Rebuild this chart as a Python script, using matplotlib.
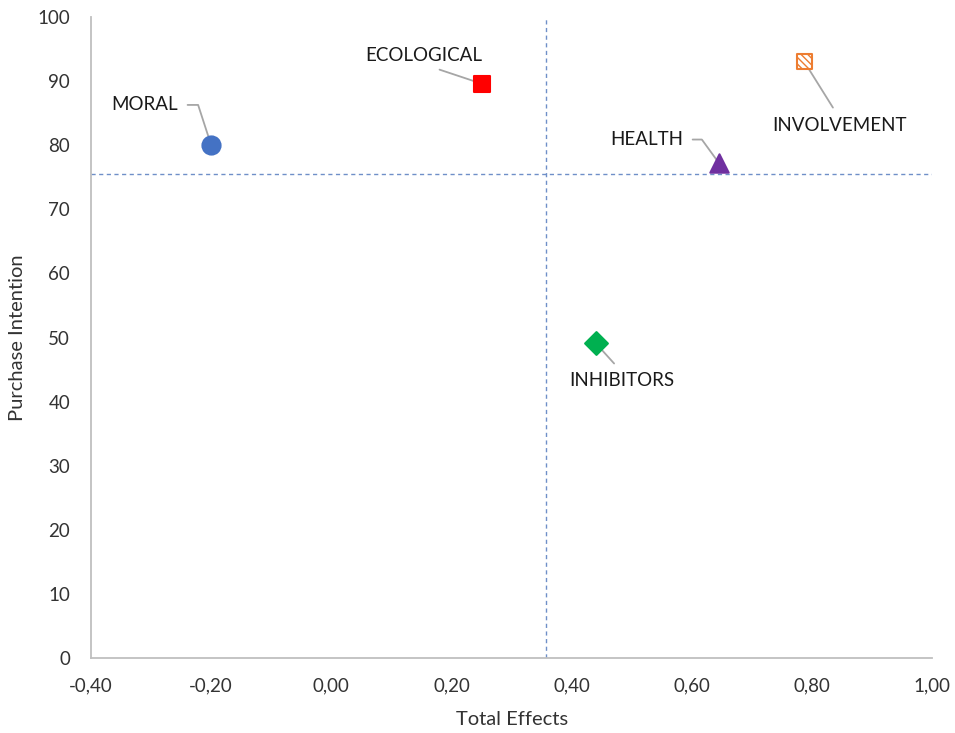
import matplotlib.pyplot as plt
from matplotlib.ticker import FuncFormatter, MultipleLocator

plt.rcParams['font.family'] = ['Lato', 'DejaVu Sans']

# Factor positions: total effect vs purchase intention
labels = ["MORAL", "ECOLOGICAL", "INVOLVEMENT", "HEALTH", "INHIBITORS"]
total_effects = [-0.20, 0.25, 0.787, 0.645, 0.44]
purchase_intention = [80.0, 89.6, 93.0, 77.2, 49.1]

# Quadrant reference lines
x_split = 0.357
y_split = 75.5

# Marker styles and label placement (offset points) for each factor
styles = [
    dict(marker='o', s=170, facecolor='#4472c4', edgecolor='#4472c4'),
    dict(marker='s', s=125, facecolor='#ff0000', edgecolor='#ff0000'),
    dict(marker='s', s=120, facecolor='white', edgecolor='#ed7d31', hatch='\\\\\\\\\\'),
    dict(marker='^', s=175, facecolor='#7030a0', edgecolor='#7030a0'),
    dict(marker='D', s=135, facecolor='#00b050', edgecolor='#00b050'),
]
offsets = [(-24, 29), (-42, 14), (25, -40), (-26, 17), (19, -21)]
connections = [
    'angle,angleA=0,angleB=108,rad=0',
    'arc3,rad=0',
    'arc3,rad=0',
    'angle,angleA=0,angleB=126,rad=0',
    'arc3,rad=0',
]
relpos = [(1, 0.5), (0.5, 0), (0.5, 1), (1, 0.5), (0.5, 1)]
shrink = [5, 6, 6, 5, 6]
text_anchor = [('right', 'center'), ('center', 'bottom'), ('center', 'top'),
               ('right', 'center'), ('center', 'top')]

fig = plt.figure(figsize=(9.55, 7.33), dpi=100)
ax = fig.add_axes([0.0953, 0.1023, 0.881, 0.8745])

ax.axvline(x_split, color='#6f8fc8', linestyle=(0, (3, 2.5)), linewidth=1.0, zorder=1)
ax.axhline(y_split, color='#6f8fc8', linestyle=(0, (3, 2.5)), linewidth=1.0, zorder=1)

for i, name in enumerate(labels):
    x, y = total_effects[i], purchase_intention[i]
    ha, va = text_anchor[i]
    ax.scatter([x], [y], zorder=3, linewidths=1.5, **styles[i])
    ax.annotate(name, xy=(x, y), xytext=offsets[i], textcoords='offset points',
                ha=ha, va=va, fontsize=13.5, color='#1a1a1a',
                arrowprops=dict(arrowstyle='-', color='#a6a6a6', linewidth=1.3,
                                connectionstyle=connections[i], relpos=relpos[i],
                                shrinkA=shrink[i], shrinkB=0),
                zorder=2)

ax.set_xlim(-0.4, 1.0)
ax.set_ylim(0, 100)
ax.xaxis.set_major_locator(MultipleLocator(0.2))
ax.yaxis.set_major_locator(MultipleLocator(10))
ax.xaxis.set_major_formatter(FuncFormatter(lambda v, p: f"{v:.2f}".replace('.', ',').replace('-0,00', '0,00')))

ax.tick_params(length=0, labelsize=13.5, colors='#333333')
ax.tick_params(axis='x', pad=14)
ax.tick_params(axis='y', pad=15)
for side in ['top', 'right']:
    ax.spines[side].set_visible(False)
for side in ['left', 'bottom']:
    ax.spines[side].set_color('#bfbfbf')
    ax.spines[side].set_linewidth(1.3)

ax.set_xlabel("Total Effects", fontsize=14.5, color='#333333', labelpad=12)
ax.set_ylabel("Purchase Intention", fontsize=14.5, color='#333333', labelpad=8)

fig.savefig("out.png", dpi=100)
